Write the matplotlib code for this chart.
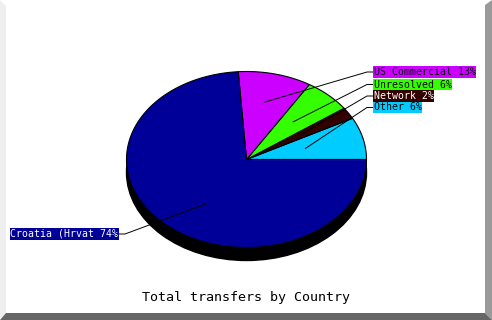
import numpy as np
import matplotlib
matplotlib.use("Agg")
import matplotlib.pyplot as plt
from matplotlib.patches import Polygon, Ellipse, Rectangle

# slices, counter-clockwise from 3 o'clock
names = ["Other", "Network", "Unresolved", "US Commercial", "Croatia (Hrvat"]
values = [5.9, 1.8, 6.2, 12.6, 73.5]
shown_pct = [6, 2, 6, 13, 74]
colors = ["#00ccff", "#330000", "#33ff00", "#cc00ff", "#000099"]
text_colors = ["black", "white", "black", "black", "white"]
title = "Total transfers by Country"

W, H = 492, 320
cx, cy = 246.5, 159.5
rx, ry = 120, 88
depth = 13

fig = plt.figure(figsize=(W / 100, H / 100), dpi=100)
ax = fig.add_axes([0, 0, 1, 1])
ax.set_xlim(0, W)
ax.set_ylim(H, 0)
ax.axis("off")

# frame: light left strip, grey right and bottom shadow
ax.add_patch(Polygon([(0, 0), (6, 6), (6, 313), (0, 319)], closed=True, fc="#efefef", ec="none"))
ax.add_patch(Polygon([(485, 5), (492, 0), (492, 320), (485, 313)], closed=True, fc="#9a9a9a", ec="none"))
ax.add_patch(Polygon([(6, 313), (485, 313), (492, 320), (0, 320)], closed=True, fc="#666666", ec="none"))


def rim(theta):
    # point on the ellipse at a screen-space angle
    r = rx * ry / np.sqrt((ry * np.cos(theta)) ** 2 + (rx * np.sin(theta)) ** 2)
    return cx + r * np.cos(theta), cy - r * np.sin(theta)


# 3d side (black)
ax.add_patch(Ellipse((cx, cy + depth), 2 * rx, 2 * ry, fc="black", ec="black", lw=1))
ax.add_patch(Rectangle((cx - rx, cy), 2 * rx, depth, fc="black", ec="none"))

total = sum(values)
start = 0.0
mids = []
for v, c in zip(values, colors):
    a0 = start / total * 2 * np.pi
    a1 = (start + v) / total * 2 * np.pi
    t = np.linspace(a0, a1, max(int(v * 4), 8))
    xs, ys = rim(t)
    pts = [(cx, cy)] + list(zip(xs, ys))
    ax.add_patch(Polygon(pts, closed=True, fc=c, ec="black", lw=0.8))
    mids.append((a0 + a1) / 2)
    start += v

# labels
right_y = [107.5, 96, 84.5, 72]
label_font = dict(family="DejaVu Sans Mono", size=7.1)
for i, (n, p, c, tc, m) in enumerate(zip(names, shown_pct, colors, text_colors, mids)):
    x0 = cx + 60 * np.cos(m)
    y0 = cy - 60 * np.sin(m)
    txt = "%s %d%%" % (n, p)
    if i < 4:
        lx, ly = 373, right_y[i]
        ax.plot([x0, lx - 6, lx], [y0, ly, ly], color="black", lw=0.7)
        ax.text(lx + 0.5, ly, txt, ha="left", va="center", color=tc, **label_font,
                bbox=dict(boxstyle="square,pad=0.1", fc=c, ec="none"))
    else:
        lx, ly = 119, 234
        ax.plot([x0, lx + 6, lx], [y0, ly, ly], color="black", lw=0.7)
        ax.text(lx - 0.5, ly, txt, ha="right", va="center", color=tc, **label_font,
                bbox=dict(boxstyle="square,pad=0.1", fc=c, ec="none"))

ax.text(245.5, 298, title, ha="center", va="center", family="DejaVu Sans Mono", size=9.6, color="black")

fig.savefig("out.png", dpi=100)
